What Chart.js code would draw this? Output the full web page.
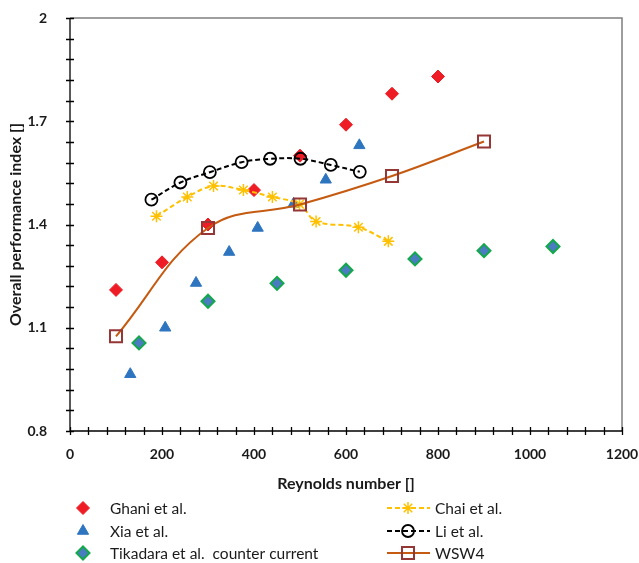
<!DOCTYPE html>
<html>
<head>
<meta charset="utf-8">
<script src="https://cdn.jsdelivr.net/npm/chart.js@4.4.1/dist/chart.umd.min.js"></script>
<style>
  html, body { margin: 0; padding: 0; background: #fff; }
</style>
</head>
<body>
<canvas id="chart" width="639" height="563"></canvas>
<script>
// Overall performance index vs Reynolds number
const ghaniRe = [100, 200, 300, 400, 500, 600, 700, 800];
const ghaniOpi = [1.21, 1.29, 1.40, 1.50, 1.60, 1.69, 1.78, 1.83];
const xiaRe = [131, 207, 274, 346, 408, 486, 556, 629];
const xiaOpi = [0.965, 1.10, 1.23, 1.32, 1.39, 1.46, 1.53, 1.63];
const tikadaraRe = [150, 300, 450, 600, 750, 900, 1050];
const tikadaraOpi = [1.056, 1.177, 1.229, 1.267, 1.30, 1.324, 1.336];
const chaiRe = [188, 255, 312, 377, 440, 499, 535, 627, 692];
const chaiOpi = [1.424, 1.48, 1.512, 1.50, 1.48, 1.459, 1.409, 1.392, 1.351];
const liRe = [177, 240, 304, 373, 435, 501, 567, 630];
const liOpi = [1.472, 1.522, 1.552, 1.581, 1.591, 1.591, 1.573, 1.553];
const wswRe = [100, 300, 500, 700, 900];
const wswOpi = [1.075, 1.39, 1.458, 1.541, 1.641];

const seriesNames = ["Ghani et al.", "Xia et al.", "Tikadara et al.  counter current",
  "Chai et al.", "Li et al.", "WSW4"];
const yTicks = [0.8, 1.1, 1.4, 1.7, 2];
const xTicks = [0, 200, 400, 600, 800, 1000, 1200];

// minor tick spacing on both axes
const xMinorStep = 40;
const yMinorStep = 0.06;

const FONT = "Lato, 'Open Sans', sans-serif";

const pts = (xs, ys) => xs.map((x, i) => ({ x: x, y: ys[i] }));

// Frame, crossing tick marks
const framePlugin = {
  id: "frame",
  beforeDatasetsDraw(chart) {
    const { ctx, chartArea: a, scales } = chart;
    ctx.save();
    ctx.strokeStyle = "#7f7f7f";
    ctx.lineWidth = 1.5;
    ctx.beginPath();
    ctx.moveTo(a.left, a.top);
    ctx.lineTo(a.right, a.top);
    ctx.lineTo(a.right, a.bottom);
    ctx.stroke();

    ctx.strokeStyle = "#000";
    ctx.lineWidth = 1.3;
    ctx.beginPath();
    ctx.moveTo(a.left, a.top);
    ctx.lineTo(a.left, a.bottom);
    ctx.lineTo(a.right, a.bottom);
    for (let v = scales.x.min; v <= scales.x.max + 0.001; v += xMinorStep) {
      const px = Math.round(scales.x.getPixelForValue(v)) + 0.5;
      ctx.moveTo(px, a.bottom - 4);
      ctx.lineTo(px, a.bottom + 4);
    }
    const n = Math.round((scales.y.max - scales.y.min) / yMinorStep);
    for (let i = 0; i <= n; i++) {
      const py = Math.round(scales.y.getPixelForValue(scales.y.min + i * yMinorStep)) + 0.5;
      ctx.moveTo(a.left - 4, py);
      ctx.lineTo(a.left + 4, py);
    }
    ctx.stroke();
    ctx.restore();
  }
};

// Two-column legend under the x axis title
const legendPlugin = {
  id: "twoColLegend",
  afterDraw(chart) {
    const ctx = chart.ctx;
    const rows = [508, 531, 553];
    ctx.save();
    ctx.font = "15.5px " + FONT;
    ctx.textBaseline = "middle";
    ctx.fillStyle = "#1a1a1a";
    chart.data.datasets.forEach((ds, i) => {
      const col = Math.floor(i / 3);
      const y = rows[i % 3];
      let mx, tx;
      if (col === 0) {
        mx = 83; tx = 110;
      } else {
        mx = 408; tx = 435;
        ctx.save();
        ctx.strokeStyle = ds.borderColor;
        ctx.lineWidth = ds.borderWidth;
        ctx.setLineDash(ds.borderDash || []);
        ctx.beginPath();
        ctx.moveTo(387, y);
        ctx.lineTo(430, y);
        ctx.stroke();
        ctx.restore();
      }
      ctx.save();
      ctx.fillStyle = ds.pointBackgroundColor;
      ctx.strokeStyle = ds.pointBorderColor;
      ctx.lineWidth = ds.pointBorderWidth;
      ctx.setLineDash([]);
      Chart.helpers.drawPoint(ctx, {
        pointStyle: ds.pointStyle,
        radius: ds.pointRadius,
        rotation: 0,
        borderWidth: ds.pointBorderWidth
      }, mx, y);
      ctx.restore();
      ctx.fillText(ds.label, tx, y + 1);
    });
    ctx.restore();
  }
};

const markerSet = (style, radius, fill, border, bw) => ({
  pointStyle: style,
  pointRadius: radius,
  pointHoverRadius: radius,
  pointBackgroundColor: fill,
  pointBorderColor: border,
  pointBorderWidth: bw
});

const datasets = [
  Object.assign({ label: seriesNames[0], data: pts(ghaniRe, ghaniOpi), showLine: false, order: 6 },
    markerSet("rectRot", 6.5, "#ee1c25", "#ee1c25", 1)),
  Object.assign({ label: seriesNames[1], data: pts(xiaRe, xiaOpi), showLine: false, order: 5 },
    markerSet("triangle", 6.5, "#2e75c0", "#2e75c0", 1)),
  Object.assign({ label: seriesNames[2], data: pts(tikadaraRe, tikadaraOpi), showLine: false, order: 4 },
    markerSet("rectRot", 6.5, "#4a7cc0", "#13a84a", 2)),
  Object.assign({ label: seriesNames[3], data: pts(chaiRe, chaiOpi), showLine: true, order: 3,
    borderColor: "#ffc000", borderWidth: 2, borderDash: [5, 3], tension: 0.35 },
    markerSet("star", 6, "#ffc000", "#ffc000", 1.5)),
  Object.assign({ label: seriesNames[4], data: pts(liRe, liOpi), showLine: true, order: 2,
    borderColor: "#000", borderWidth: 2, borderDash: [5, 3], tension: 0.35 },
    markerSet("circle", 6, "rgba(0,0,0,0)", "#000", 1.8)),
  Object.assign({ label: seriesNames[5], data: pts(wswRe, wswOpi), showLine: true, order: 1,
    borderColor: "#c55a11", borderWidth: 2, tension: 0.4 },
    markerSet("rect", 8.5, "rgba(0,0,0,0)", "#953735", 2))
];

new Chart(document.getElementById("chart"), {
  type: "scatter",
  data: { datasets: datasets },
  options: {
    responsive: false,
    animation: false,
    devicePixelRatio: 1,
    layout: { padding: { top: 18, right: 17, bottom: 70, left: 0 } },
    plugins: {
      legend: { display: false },
      tooltip: { enabled: false }
    },
    scales: {
      x: {
        type: "linear",
        min: 0,
        max: 1200,
        afterBuildTicks: (s) => { s.ticks = xTicks.map((v) => ({ value: v })); },
        afterFit: (s) => { s.height = 62; s.paddingLeft = 0; s.paddingRight = 0; },
        grid: { display: false },
        border: { display: false },
        ticks: {
          autoSkip: false,
          maxRotation: 0,
          padding: 7,
          color: "#1a1a1a",
          font: { family: FONT, size: 14, weight: "bold" },
          callback: (v) => String(v)
        },
        title: {
          display: true,
          text: "Reynolds number []",
          color: "#1a1a1a",
          padding: { top: 0, bottom: 0 },
          font: { family: FONT, size: 16, weight: "bold" }
        }
      },
      y: {
        type: "linear",
        min: 0.8,
        max: 2,
        afterBuildTicks: (s) => { s.ticks = yTicks.map((v) => ({ value: v })); },
        afterFit: (s) => { s.width = 70; s.paddingTop = 0; s.paddingBottom = 0; },
        grid: { display: false },
        border: { display: false },
        ticks: {
          padding: 15,
          color: "#1a1a1a",
          font: { family: FONT, size: 14, weight: "bold" },
          callback: (v) => String(+Number(v).toFixed(2))
        },
        title: {
          display: true,
          text: "Overall performance index []",
          color: "#1a1a1a",
          padding: { top: 6, bottom: 0 },
          font: { family: FONT, size: 16, weight: "bold" }
        }
      }
    }
  },
  plugins: [framePlugin, legendPlugin]
});
</script>
</body>
</html>
